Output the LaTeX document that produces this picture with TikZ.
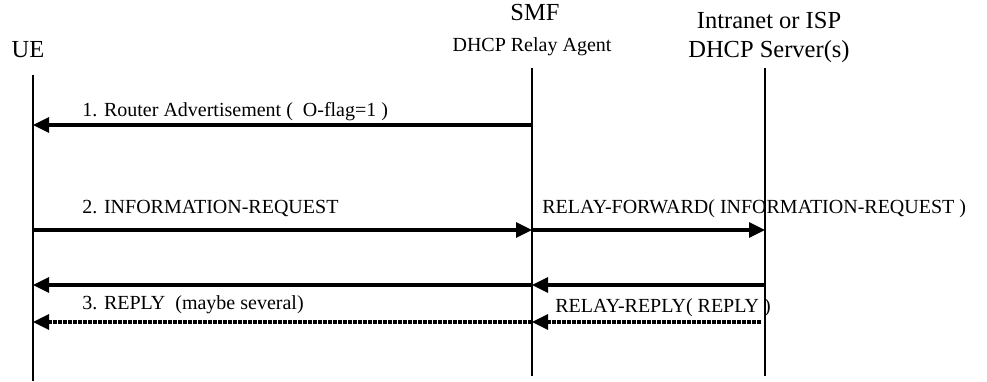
\documentclass[tikz,border=0pt]{standalone}
\usepackage{fontspec}
\setmainfont{Liberation Serif}
\usetikzlibrary{arrows.meta}
\tikzset{>={Triangle[length=8pt,width=7.5pt]}}
\tikzset{entity/.style = {inner sep=0pt,anchor=base,font=\fontsize{12.25}{14}\selectfont}}
\tikzset{role/.style = {inner sep=0pt,anchor=base,font=\fontsize{10}{12}\selectfont}}
\tikzset{msglabel/.style = {inner sep=0pt,anchor=base west,font=\fontsize{10}{12}\selectfont}}
\tikzset{lifeline/.style = {line width=1pt}}
\tikzset{msg/.style = {->,line width=1.6pt}}
\tikzset{reply/.style = {->,line width=1.6pt,dash pattern=on 1.8pt off 0.7pt}}

\begin{document}
\begin{tikzpicture}[x=0.5pt,y=-0.5pt]
            \useasboundingbox (0,0) rectangle (987,381);

            % Entities
            \node[entity] (ue) at (28,57) {UE};
            \node[entity] (smf) at (535,20) {SMF};
            \node[role] (relay) at (532,51) {DHCP Relay Agent};
            \node[entity] (isp) at (769,28) {Intranet or ISP};
            \node[entity] (server) at (769,57) {DHCP Server(s)};

            % Lifelines
            \coordinate (ue-top) at (33,75);
            \coordinate (ue-bot) at (33,381);
            \coordinate (smf-top) at (532,68);
            \coordinate (smf-bot) at (532,376);
            \coordinate (isp-top) at (765,68);
            \coordinate (isp-bot) at (765,376);
            \draw[lifeline] (ue-top) -- (ue-bot);
            \draw[lifeline] (smf-top) -- (smf-bot);
            \draw[lifeline] (isp-top) -- (isp-bot);

            % Message points
            \foreach \n/\y in {1/125,2/230,3/285,4/322} {
                \coordinate (ue\n) at (33,\y);
                \coordinate (smf\n) at (532,\y);
                \coordinate (isp\n) at (765,\y);
            }

            % Messages
            % 1
            \draw[msg] (smf1) -- (ue1);
            \node[msglabel] (ra) at (82,116) {1. Router Advertisement (\ \ O-flag=1 )};

            % 2
            \draw[msg] (ue2) -- (smf2);
            \draw[msg] (smf2) -- (isp2);
            \node[msglabel] (inforeq) at (82,213) {2. INFORMATION-REQUEST};
            \node[msglabel] (relayfwd) at (542,213) {RELAY-FORWARD( INFORMATION-REQUEST )};

            % 3
            \draw[msg] (isp3) -- (smf3);
            \draw[msg] (smf3) -- (ue3);
            \draw[reply,shorten <=2pt] (isp4) -- (smf4);
            \draw[reply] (smf4) -- (ue4);
            \node[msglabel] (reply) at (82,309) {3. REPLY\ \ (maybe several)};
            \node[msglabel] (relayrep) at (555,312) {RELAY-REPLY( REPLY )};
        \end{tikzpicture}
\end{document}
